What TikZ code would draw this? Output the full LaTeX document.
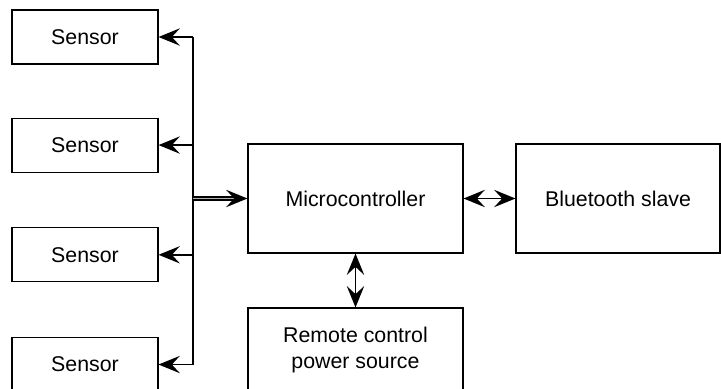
\documentclass[tikz,border=0pt]{standalone}
\usepackage{fontspec}
\setmainfont{Liberation Sans}
\usetikzlibrary{positioning,arrows.meta}

\begin{document}
\begin{tikzpicture}[x=0.75pt,y=-0.75pt]
            \tikzstyle{block}=[draw,line width=0.8pt,minimum width=109.5pt,minimum height=40.5pt,inner sep=0pt,align=center,font=\fontsize{16}{19}\selectfont]
            \tikzstyle{bigblock}=[block,minimum width=161.25pt,minimum height=81.75pt]
            \tikzstyle{link}=[line width=1.3pt,>={Stealth[length=16pt,width=13pt,inset=6pt]}]
            \useasboundingbox (0,0) rectangle (721,389);
            \clip (0,0) rectangle (721,389);
            \node[block] (sensor1) at (85,37) {Sensor};
            \node[block,below=39.75pt of sensor1] (sensor2) {Sensor};
            \node[block,below=41pt of sensor2] (sensor3) {Sensor};
            \node[block,below=41pt of sensor3] (sensor4) {Sensor};
            \node[bigblock] (micro) at (355.5,198.5) {Microcontroller};
            \node[bigblock,minimum width=153pt] (bt) at (618,198.5) {Bluetooth slave};
            \node[bigblock,minimum height=63pt] (remote) at (355.5,350) {Remote control\\power source};
            \coordinate (bus1) at (193,37);
            \coordinate (bus2) at (sensor2.east -| bus1);
            \coordinate (bus3) at (sensor3.east -| bus1);
            \coordinate (bus4) at (sensor4.east -| bus1);
            \coordinate (busin) at (micro.west -| bus1);
            \draw[link] (bus1) -- (bus4);
            \foreach \i in {1,...,4}
                \draw[link,->] (bus\i) -- (sensor\i.east);
            \draw[link,double=gray!60,double distance=1.2pt,->] (busin) -- (micro.west);
            \draw[link,<->] (micro.east) -- (bt.west);
            \draw[link,<->] (micro.south) -- (remote.north);
        \end{tikzpicture}
\end{document}
